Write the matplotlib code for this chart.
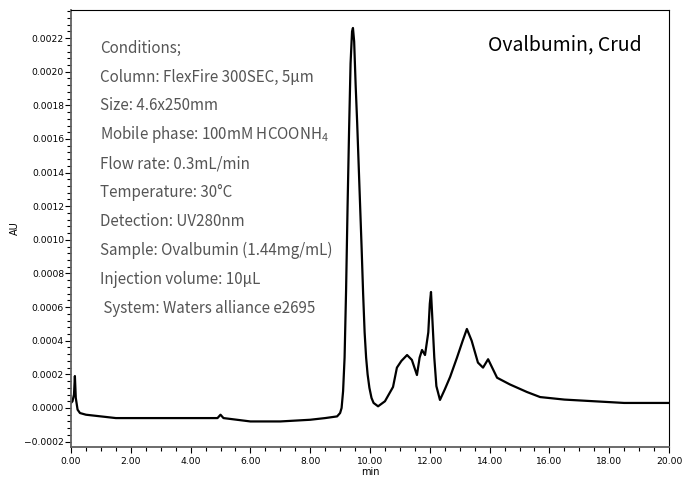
import matplotlib
matplotlib.use("Agg")
import matplotlib.pyplot as plt
from matplotlib.ticker import MultipleLocator, FuncFormatter

# chromatogram (time in min, absorbance in AU)
tiempo = [0.00, 0.05, 0.10, 0.13, 0.16, 0.22, 0.30, 0.50, 1.00, 1.50, 2.00, 3.00,
          4.00, 4.90, 5.00, 5.10, 6.00, 7.00, 8.00, 8.50, 8.90, 9.00, 9.05,
          9.10, 9.15, 9.20, 9.25, 9.30, 9.35, 9.40, 9.43, 9.47, 9.52, 9.57,
          9.62, 9.67, 9.72, 9.77, 9.82, 9.87, 9.92, 9.98, 10.05, 10.12, 10.27,
          10.50, 10.77, 10.90, 11.05, 11.24, 11.40, 11.57, 11.66, 11.74, 11.84,
          11.95, 12.00, 12.04, 12.08, 12.15, 12.22, 12.34, 12.50, 12.68, 12.91,
          13.10, 13.24, 13.40, 13.61, 13.78, 13.95, 14.25, 14.68, 15.25, 15.69,
          16.50, 17.50, 18.50, 19.50, 20.00]
absorb = [0.00003, 0.00004, 0.00008, 0.00019, 0.00006, -0.00001, -0.00003,
          -0.00004, -0.00005, -0.00006, -0.00006, -0.00006, -0.00006, -0.00006,
          -0.00004, -0.00006, -0.00008, -0.00008, -0.00007, -0.00006, -0.00005,
          -0.00003, 0.00000, 0.00010, 0.00030, 0.00070, 0.00120, 0.00165,
          0.00205, 0.00224, 0.00226, 0.00218, 0.00192, 0.00170, 0.00145,
          0.00120, 0.00095, 0.00068, 0.00045, 0.00030, 0.00020, 0.00012,
          0.00006, 0.00003, 0.00001, 0.00004, 0.000125, 0.00024, 0.00028,
          0.000315, 0.000286, 0.000196, 0.00030, 0.000345, 0.000315, 0.00045,
          0.00062, 0.00069, 0.00055, 0.00030, 0.00013, 0.000048, 0.00011,
          0.000185, 0.00030, 0.00040, 0.00047, 0.00040, 0.00027, 0.00024,
          0.00029, 0.00018, 0.00014, 0.000095, 0.000065, 0.00005, 0.00004,
          0.00003, 0.00003, 0.00003]

condiciones = ["Conditions;",
               "Column: FlexFire 300SEC, 5µm",
               "Size: 4.6x250mm",
               "Mobile phase: 100mM HCOONH$_4$",
               "Flow rate: 0.3mL/min",
               "Temperature: 30°C",
               "Detection: UV280nm",
               "Sample: Ovalbumin (1.44mg/mL)",
               "Injection volume: 10µL",
               " System: Waters alliance e2695"]
titulo = "Ovalbumin, Crud"

plt.rcParams['font.family'] = ['DejaVu Sans']
plt.rcParams['mathtext.fontset'] = 'custom'
plt.rcParams['mathtext.rm'] = 'Noto Sans CJK JP'
plt.rcParams['mathtext.default'] = 'regular'

fig, ax = plt.subplots(figsize=(6.86, 4.84), dpi=100)
fig.subplots_adjust(left=71/686, right=669/686, bottom=1-447/484, top=1-10/484)

ax.plot(tiempo, absorb, color='black', linewidth=1.6)

ax.set_xlim(0, 20)
ax.set_ylim(-0.000232, 0.002367)
ax.xaxis.set_major_locator(MultipleLocator(2))
ax.xaxis.set_minor_locator(MultipleLocator(0.5))
ax.yaxis.set_major_locator(MultipleLocator(0.0002))
ax.yaxis.set_minor_locator(MultipleLocator(0.00004))
ax.xaxis.set_major_formatter(FuncFormatter(lambda v, p: '%.2f' % v))
ax.yaxis.set_major_formatter(FuncFormatter(
    lambda v, p: ('%.4f' % v).replace('-0.0000', '0.0000').replace('-', '\u2212')))
ax.tick_params(which='both', direction='out', labelsize=6.6, top=False, right=False)
ax.tick_params(axis='y', pad=1)
ax.tick_params(axis='x', pad=3)
ax.tick_params(which='major', length=4, width=0.8)
ax.tick_params(which='minor', length=3, width=0.8)

for lado in ['left', 'bottom']:
    ax.spines[lado].set_color('#606060')
    ax.spines[lado].set_linewidth(1.3)
for lado in ['top', 'right']:
    ax.spines[lado].set_color('black')
    ax.spines[lado].set_linewidth(0.8)

ax.set_xlabel('min', fontsize=7, labelpad=1)
ax.set_ylabel('AU', fontsize=7)
ax.yaxis.set_label_coords(-0.085, 0.5)

y0 = 0.913
for i, linea in enumerate(condiciones):
    ax.text(0.0485, y0 - i * 0.0663, linea, transform=ax.transAxes,
            fontsize=10.9, color='#555555', va='center', ha='left',
            family=['Noto Sans CJK JP', 'DejaVu Sans'])

ax.text(0.697, 0.92, titulo, transform=ax.transAxes, fontsize=14,
        color='black', va='center', ha='left',
        family=['Noto Sans CJK JP', 'DejaVu Sans'])

fig.savefig('out.png', dpi=100)
